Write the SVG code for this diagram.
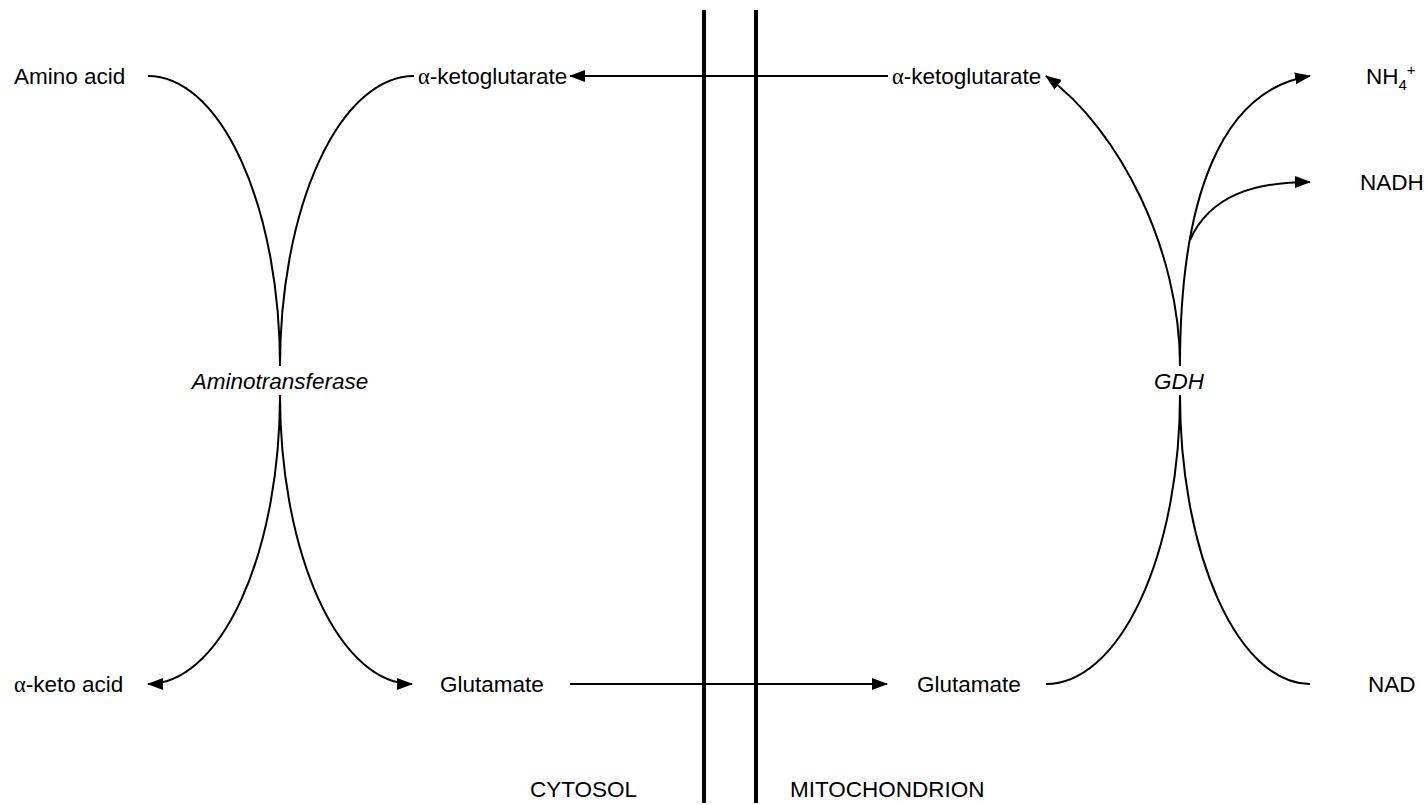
<svg xmlns="http://www.w3.org/2000/svg" width="1428" height="805" viewBox="0 0 1428 805">
<style>
text{font-family:"Liberation Sans",Arial,sans-serif;font-size:22.5px;fill:#000}
.g{font-family:"Liberation Serif","Times New Roman",serif}
.it{font-style:italic}
.c{fill:none;stroke:#000;stroke-width:2}
.m{fill:none;stroke:#000;stroke-width:4}
</style>
<defs>
<marker id="ah" markerWidth="16" markerHeight="12" refX="15" refY="6" orient="auto" markerUnits="userSpaceOnUse">
<path d="M0,0 L16,6 L0,12 z" fill="#000"/>
</marker>
</defs>
<g id="membranes">
<line class="m" x1="704" y1="10" x2="704" y2="803"/>
<line class="m" x1="756" y1="10" x2="756" y2="803"/>
</g>
<g id="connectors">
<path class="c" d="M148,76 A132,290 0 0 1 280,366"/>
<path class="c" d="M414,76 A134,290 0 0 0 280,366"/>
<path class="c" d="M280,395 A132,289 0 0 1 148,684" marker-end="url(#ah)"/>
<path class="c" d="M280,395 A132,289 0 0 0 412,684" marker-end="url(#ah)"/>
<path class="c" d="M888,76 L570,76" marker-end="url(#ah)"/>
<path class="c" d="M570,684 L887,684" marker-end="url(#ah)"/>
<path class="c" d="M1046,684 A134,289 0 0 0 1180,395"/>
<path class="c" d="M1310,684 A130,289 0 0 1 1180,395"/>
<path class="c" d="M1180,366 C1180,250 1120,130 1046,76" marker-end="url(#ah)"/>
<path class="c" d="M1180,366 C1180,200 1220,90 1310,76" marker-end="url(#ah)"/>
<path class="c" d="M1190,240 C1210,195 1255,182 1310,182" marker-end="url(#ah)"/>
</g>
<g id="amino-acid"><text x="14" y="84">Amino acid</text></g>
<g id="akg-cyto"><text x="418" y="84"><tspan class="g">α</tspan>-ketoglutarate</text></g>
<g id="akg-mito"><text x="892" y="84"><tspan class="g">α</tspan>-ketoglutarate</text></g>
<g id="nh4"><text x="1366" y="84">NH<tspan font-size="15" dy="6">4</tspan><tspan font-size="15" dy="-15">+</tspan></text></g>
<g id="nadh"><text x="1360" y="190">NADH</text></g>
<g id="aminotransferase"><text class="it" x="280" y="389" text-anchor="middle">Aminotransferase</text></g>
<g id="gdh"><text class="it" x="1179" y="389" text-anchor="middle">GDH</text></g>
<g id="keto-acid"><text x="14" y="692"><tspan class="g">α</tspan>-keto acid</text></g>
<g id="glu-cyto"><text x="440" y="692">Glutamate</text></g>
<g id="glu-mito"><text x="917" y="692">Glutamate</text></g>
<g id="nad"><text x="1368" y="692">NAD</text></g>
<g id="cytosol"><text x="530" y="797">CYTOSOL</text></g>
<g id="mitochondrion"><text x="790" y="797">MITOCHONDRION</text></g>
</svg>
